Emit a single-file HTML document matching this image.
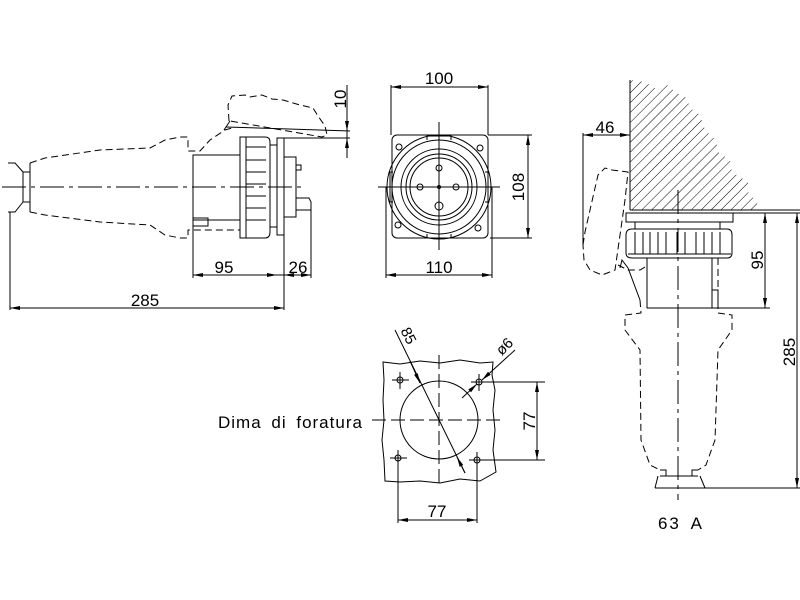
<!DOCTYPE html>
<html><head><meta charset="utf-8"><style>
html,body{margin:0;padding:0;background:#fff;}
svg{display:block;}
text{font-family:"Liberation Sans",sans-serif;font-size:17px;fill:#000;}
</style></head><body>
<svg width="800" height="600" viewBox="0 0 800 600" xmlns="http://www.w3.org/2000/svg">
<defs>
<pattern id="h" width="7" height="7" patternUnits="userSpaceOnUse" patternTransform="rotate(45)">
<line x1="0" y1="0" x2="0" y2="7" stroke="#000" stroke-width="1"/>
</pattern>
<marker id="a" viewBox="0 0 10 6" refX="10" refY="3" markerWidth="10" markerHeight="6" orient="auto-start-reverse" markerUnits="userSpaceOnUse"><path d="M0,1 L10,3 L0,5z" fill="#000"/></marker>
</defs>
<g fill="none" stroke="#000" stroke-width="1">
<!-- LEFT VIEW -->
<line x1="2" y1="187" x2="305" y2="187" stroke-dasharray="24,5,4,5"/>
<g stroke-dasharray="7,4">
<path d="M30,163 L45,158 L100,150 L150,148 L165,140 L180,137 L188,137 L188,151 L200,151 L210,140 L225,130 L232,128"/>
<path d="M30,212 L45,215 L100,222 L150,225 L165,235 L180,238 L188,238 L188,230 L240,230"/>
<path d="M229,121 L228,105 L232,96 L245,95 L250,97 L262,95 L272,99 L283,100 L300,105 L313,108 L318,116 L325,126 L327,135 L322,137 L230,121"/>
</g>
<path d="M8,163 L15,163 L23,172 L23,202 L15,212 L8,212" />
<path d="M23,172 L30,172 L30,163 M23,202 L30,202 L30,212 M30,172 L30,202"/>
<line x1="230" y1="121" x2="224" y2="130"/>
<line x1="226" y1="127" x2="350" y2="131"/>
<rect x="193" y="155" width="47" height="65"/>
<rect x="193" y="218" width="15" height="8"/>
<path d="M240,137 L265,137 Q270,137 270,142 L270,232 Q270,238 265,238 L240,238 Z"/>
<line x1="246" y1="137" x2="246" y2="238"/>
<path d="M246,147 h20 M246,160 h20 M246,172 h20 M246,184 h20 M246,196 h20 M246,208 h20 M246,220 h20"/>
<line x1="270" y1="145" x2="277" y2="145"/><line x1="270" y1="227" x2="277" y2="227"/>
<rect x="277" y="138" width="7" height="97"/>
<rect x="284" y="157" width="12" height="60"/>
<rect x="296" y="165" width="5" height="5"/>
<path d="M296,198 L309,198 L311,202 L311,210 L296,210"/>
<line x1="284" y1="138" x2="350" y2="138"/>
<!-- dims left -->
<line x1="347" y1="85" x2="347" y2="158"/>
<line x1="347" y1="118" x2="347" y2="131" marker-end="url(#a)"/>
<line x1="347" y1="151" x2="347" y2="138" marker-end="url(#a)"/>
<line x1="193" y1="222" x2="193" y2="278"/>
<line x1="284" y1="235" x2="284" y2="310"/>
<line x1="311" y1="210" x2="311" y2="278"/>
<line x1="10" y1="212" x2="10" y2="310"/>
<line x1="193" y1="275" x2="277" y2="275" marker-start="url(#a)" marker-end="url(#a)"/>
<line x1="277" y1="275" x2="284" y2="275"/>
<line x1="284" y1="275" x2="311" y2="275" marker-start="url(#a)" marker-end="url(#a)"/>
<line x1="10" y1="308" x2="284" y2="308" marker-start="url(#a)" marker-end="url(#a)"/>
<!-- FRONT VIEW -->
<rect x="392" y="135" width="96" height="103" rx="5"/>
<circle cx="439" cy="187" r="52"/>
<circle cx="439" cy="187" r="47"/>
<path d="M401,187 A38,38 0 0 1 477,187 A38,38 0 0 1 401,187" />
<circle cx="439" cy="187" r="33"/>
<circle cx="439" cy="187" r="29"/>
<circle cx="439" cy="168" r="3"/><circle cx="420" cy="187" r="3"/><circle cx="456" cy="187" r="3"/><circle cx="439" cy="206" r="4"/><circle cx="439" cy="187" r="1.5"/>
<circle cx="399" cy="147" r="3"/><circle cx="480" cy="148" r="3"/><circle cx="398" cy="225" r="3"/><circle cx="478" cy="228" r="3"/>
<path d="M427,140 v-4 h24 v4 M427,234 v4 h24 v-4 M393,172 h-3 v30 h3 M485,172 h3 v30 h-3"/>
<line x1="439" y1="122" x2="439" y2="250"/><line x1="378" y1="187" x2="500" y2="187"/>
<line x1="391" y1="85" x2="391" y2="135"/><line x1="488" y1="85" x2="488" y2="135"/>
<line x1="391" y1="87" x2="488" y2="87" marker-start="url(#a)" marker-end="url(#a)"/>
<line x1="386" y1="187" x2="386" y2="278"/><line x1="492" y1="187" x2="492" y2="278"/>
<line x1="386" y1="275" x2="492" y2="275" marker-start="url(#a)" marker-end="url(#a)"/>
<line x1="488" y1="135" x2="532" y2="135"/><line x1="490" y1="238" x2="532" y2="238"/>
<line x1="528" y1="135" x2="528" y2="238" marker-start="url(#a)" marker-end="url(#a)"/>
<!-- TEMPLATE -->
<path d="M383,362 L400,364 L420,361 L440,363 L460,360 L480,363 L493,362 L492,375 L495,390 L493,410 L495,430 L493,450 L496,472 L480,481 L460,479 L440,483 L420,481 L400,482 L385,481 L384,460 L382,440 L384,420 L383,400 L384,380 Z"/>
<circle cx="439" cy="420" r="39"/>
<line x1="372" y1="420" x2="500" y2="420" stroke-dasharray="14,5"/>
<line x1="439" y1="355" x2="439" y2="483" stroke-dasharray="14,5"/>
<circle cx="400" cy="380" r="3"/><path d="M392,380 h17 M400,372 v17"/>
<circle cx="479" cy="382" r="3"/><path d="M471,382 h17 M479,374 v17"/>
<circle cx="398" cy="458" r="3"/><path d="M390,458 h17 M398,450 v17"/>
<circle cx="477" cy="460" r="3"/><path d="M469,460 h17 M477,452 v17"/>
<line x1="395" y1="330" x2="465" y2="473"/>
<line x1="410" y1="361" x2="420" y2="383" marker-end="url(#a)"/>
<line x1="465" y1="473" x2="457" y2="457" marker-end="url(#a)"/>
<line x1="515" y1="350" x2="482" y2="380" marker-end="url(#a)"/>
<line x1="462" y1="398" x2="477" y2="384" marker-end="url(#a)"/>
<line x1="482" y1="382" x2="545" y2="382"/><line x1="480" y1="460" x2="545" y2="460"/>
<line x1="537" y1="382" x2="537" y2="460" marker-start="url(#a)" marker-end="url(#a)"/>
<line x1="398" y1="462" x2="398" y2="523"/><line x1="477" y1="462" x2="477" y2="523"/>
<line x1="398" y1="520" x2="477" y2="520" marker-start="url(#a)" marker-end="url(#a)"/>
<!-- RIGHT VIEW -->
<path d="M630,80 L630,210 L758,210 L757,202 L748,192 L748,182 L732,172 L730,160 L718,152 L716,140 L705,130 L700,115 L690,108 L687,98 L675,92 L668,85 L655,88 L645,82 Z" fill="url(#h)" stroke="none"/>
<line x1="630" y1="80" x2="630" y2="210"/>
<line x1="630" y1="210" x2="800" y2="210"/>
<rect x="626" y="213" width="107" height="9"/>
<line x1="635" y1="222" x2="635" y2="229"/><line x1="720" y1="222" x2="720" y2="229"/>
<path d="M632,229 L727,229 Q732,229 732,235 L732,253 Q732,258 727,258 L632,258 Q626,258 626,253 L626,235 Q626,229 632,229 Z"/>
<path d="M635,232 v22 M643,232 v22 M650,232 v22 M658,232 v22 M666,232 v22 M677,232 v22 M685,232 v22 M696,232 v22 M704,232 v22 M712,232 v22 M720,232 v22 M628,254 h103"/>
<rect x="647" y="258" width="65" height="50"/>
<rect x="712" y="290" width="6" height="18"/>
<line x1="712" y1="308" x2="770" y2="308"/>
<g stroke-dasharray="7,4">
<path d="M640,300 L641,313 L625,315 L625,330 L640,350 L641,440 L650,465 L660,470"/>
<path d="M718,258 L718,313 L732,315 L732,330 L718,350 L715,440 L706,465 L698,470"/>
<path d="M583,245 L585,232 L590,210 L598,175 L605,168 L612,170 L628,172 L625,200 L615,270 L602,275 L590,270 L584,260 Z"/>
<path d="M618,265 L628,270 L640,270 L647,266"/>
<line x1="678" y1="190" x2="678" y2="500" stroke-dasharray="24,5,4,5"/>
</g>
<path d="M620,268 L622,260 L628,268 L640,300"/>
<path d="M660,470 L666,470 L666,476 M698,470 L692,470 L692,476 M660,476 h38 M658,476 L655,488 M700,476 L705,488 M655,488 h150"/>
<line x1="583" y1="133" x2="583" y2="245"/>
<line x1="583" y1="135" x2="630" y2="135" marker-start="url(#a)" marker-end="url(#a)"/>
<line x1="765" y1="213" x2="765" y2="308" marker-start="url(#a)" marker-end="url(#a)"/>
<line x1="733" y1="213" x2="800" y2="213"/>
<line x1="797" y1="213" x2="797" y2="488" marker-start="url(#a)" marker-end="url(#a)"/>
</g>
<!-- TEXT -->
<text x="224" y="273" text-anchor="middle">95</text>
<text x="298" y="273" text-anchor="middle">26</text>
<text x="145" y="306" text-anchor="middle">285</text>
<text transform="translate(346,99) rotate(-90)" text-anchor="middle">10</text>
<text x="439" y="84" text-anchor="middle">100</text>
<text x="439" y="273" text-anchor="middle">110</text>
<text transform="translate(524,187) rotate(-90)" text-anchor="middle">108</text>
<text x="605" y="133" text-anchor="middle">46</text>
<text transform="translate(763,260) rotate(-90)" text-anchor="middle">95</text>
<text transform="translate(795,352) rotate(-90)" text-anchor="middle">285</text>
<text x="681" y="529" text-anchor="middle" style="letter-spacing:2px;word-spacing:4px">63 A</text>
<text x="218" y="428" style="font-size:17px;letter-spacing:1px;word-spacing:4px">Dima di foratura</text>
<text transform="translate(535,421) rotate(-90)" text-anchor="middle">77</text>
<text x="437" y="517" text-anchor="middle">77</text>
<text transform="translate(404,338) rotate(63)" text-anchor="middle" style="font-size:15px">85</text>
<text transform="translate(508,350) rotate(-45)" text-anchor="middle" style="font-size:15px">ø6</text>
</svg>
</body></html>
